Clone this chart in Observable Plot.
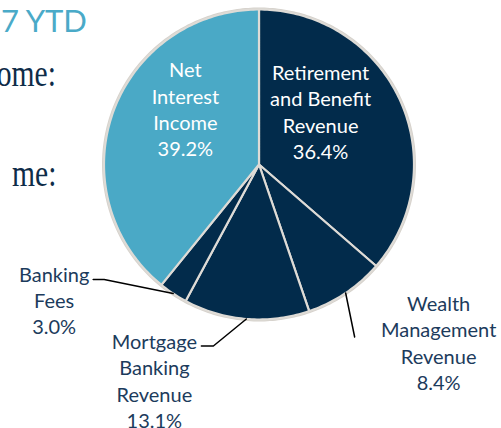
<!DOCTYPE html>
<html>
<head>
<meta charset="utf-8">
<script src="https://cdn.jsdelivr.net/npm/d3@7"></script>
<script src="https://cdn.jsdelivr.net/npm/@observablehq/plot@0.6"></script>
<style>
  html, body { margin: 0; padding: 0; background: #ffffff; }
  #wrap { position: relative; width: 501px; height: 428px; overflow: hidden; }
  #wrap svg { position: absolute; left: 0; top: 0; }
  .cut { position: absolute; white-space: nowrap; }
  .title { left: 1px; top: 2px; font-family: Lato, sans-serif; font-size: 31px; line-height: 1.2; color: #4aaac8; }
  .serif { right: 445px; font-family: "Liberation Serif", serif; font-size: 37px; line-height: 1.107; color: #0e2c48;
           transform: scaleX(0.8); transform-origin: right center; }
</style>
</head>
<body>
<div id="wrap">
  <div class="cut title">7 YTD</div>
  <div class="cut serif" style="top:54px">ome:</div>
  <div class="cut serif" style="top:154px">me:</div>
</div>
<script>
// ---- data ----
const categories = ["Retirement and Benefit Revenue", "Wealth Management Revenue", "Mortgage Banking Revenue", "Banking Fees", "Net Interest Income"];
const shares = [36.4, 8.4, 13.1, 3.0, 39.2];
const labelLines = [["Retirement", "and Benefit", "Revenue"], ["Wealth", "Management", "Revenue"], ["Mortgage", "Banking", "Revenue"], ["Banking", "Fees"], ["Net", "Interest", "Income"]];
const percentLabels = ["36.4%", "8.4%", "13.1%", "3.0%", "39.2%"];

// ---- styles / layout ----
const sliceColors = ["#022b4b", "#022b4b", "#022b4b", "#022b4b", "#4aa9c6"];
const cx = 258.5, cy = 164, R = 155;
const inside = [true, false, false, false, true];
// label placement: inside -> at 0.6 r plus pixel offset; outside -> from rim point plus pixel offset
const labelOffset = [[-23, -15], [93, 49], [-92, 61], [-119, 6], [14, -25]];
// leader line elbows (pixel offsets from the rim point)
const leaderElbows = [null, [[9, 44]], [[-33, 27], [-45, 27]], [[-69, -14], [-80, -14]], null];

// ---- geometry from values ----
const total = d3.sum(shares);
let acc = 0;
const slices = categories.map((c, i) => {
  const a0 = acc / total * 2 * Math.PI;
  acc += shares[i];
  const a1 = acc / total * 2 * Math.PI;
  return {category: c, i, a0, a1, mid: (a0 + a1) / 2};
});

const polyPts = [];
for (const s of slices) {
  polyPts.push({category: s.category, x: 0, y: 0});
  const n = Math.max(2, Math.ceil((s.a1 - s.a0) / (Math.PI / 180)));
  for (let k = 0; k <= n; k++) {
    const a = s.a0 + (s.a1 - s.a0) * k / n;
    polyPts.push({category: s.category, x: Math.sin(a), y: Math.cos(a)});
  }
  polyPts.push({category: s.category, x: 0, y: 0});
}

const outline = d3.range(0, 361).map(d => ({x: Math.sin(d * Math.PI / 180), y: Math.cos(d * Math.PI / 180)}));

const labels = slices.map(s => {
  const r = inside[s.i] ? 0.6 : 1;
  return {
    text: labelLines[s.i].concat([percentLabels[s.i]]).join("\n"),
    x: r * Math.sin(s.mid), y: r * Math.cos(s.mid),
    dx: labelOffset[s.i][0], dy: labelOffset[s.i][1],
    inside: inside[s.i]
  };
});

const leaders = [];
slices.forEach(s => {
  const el = leaderElbows[s.i];
  if (!el) return;
  const ex = Math.sin(s.mid), ey = Math.cos(s.mid);
  leaders.push({k: s.i, x: ex, y: ey});
  for (const [px, py] of el) leaders.push({k: s.i, x: ex + px / R, y: ey - py / R});
});

const textMarks = labels.map(l => Plot.text([l], {
  x: "x", y: "y", text: "text", dx: l.dx, dy: l.dy,
  fill: l.inside ? "#ffffff" : "#1c3b5c",
  fontSize: 20, lineHeight: 1.32, textAnchor: "middle", lineAnchor: "middle",
  fontFamily: "Lato, sans-serif"
}));

const chart = Plot.plot({
  width: 501, height: 428, margin: 0,
  style: {background: "transparent", overflow: "visible"},
  x: {domain: [-1, 1], range: [cx - R, cx + R], axis: null},
  y: {domain: [-1, 1], range: [cy + R, cy - R], axis: null},
  color: {domain: categories, range: sliceColors},
  marks: [
    Plot.line(outline, {x: "x", y: "y", stroke: "#d6d2cc", strokeWidth: 4, fill: "none"}),
    Plot.line(polyPts, {x: "x", y: "y", z: "category", fill: "category", stroke: "#dedbd6", strokeWidth: 2.2, strokeLinejoin: "round"}),
    Plot.line(leaders, {x: "x", y: "y", z: "k", stroke: "#000000", strokeWidth: 1.5}),
    ...textMarks
  ]
});

document.getElementById("wrap").prepend(chart);
</script>
</body>
</html>
